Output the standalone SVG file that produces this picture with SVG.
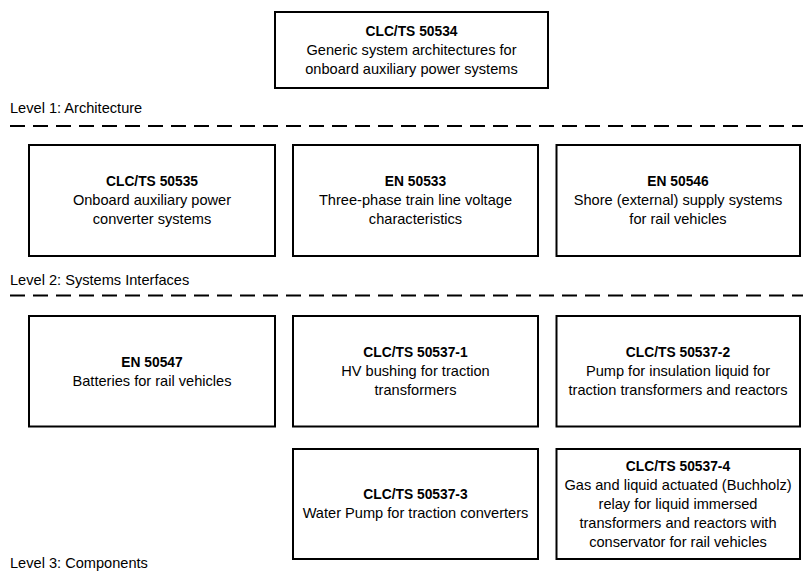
<svg xmlns="http://www.w3.org/2000/svg" width="803" height="577" viewBox="0 0 803 577">
<style>
.box{fill:#fff;stroke:#000;stroke-width:2}
.t{font-family:"Liberation Sans",Arial,sans-serif;font-size:14.6px;fill:#000;text-anchor:middle}
.b{font-weight:bold;font-size:13.8px}
.lbl{font-family:"Liberation Sans",Arial,sans-serif;font-size:14.6px;fill:#000}
.dash{stroke:#000;stroke-width:2;stroke-dasharray:15 8;fill:none}
</style>
<rect width="803" height="577" fill="#fff"/>
<g id="separators">
<line class="dash" x1="10" y1="126" x2="803" y2="126"/>
<line class="dash" x1="10" y1="295.5" x2="803" y2="295.5"/>
</g>
<text class="lbl" x="10" y="113">Level 1: Architecture</text>
<text class="lbl" x="10" y="285">Level 2: Systems Interfaces</text>
<text class="lbl" x="10" y="568">Level 3: Components</text>
<g id="n50534">
<rect class="box" x="275" y="12" width="273" height="76"/>
<text class="t b" x="411.5" y="36">CLC/TS 50534</text>
<text class="t" x="411.5" y="55">Generic system architectures for</text>
<text class="t" x="411.5" y="74">onboard auxiliary power systems</text>
</g>
<g id="n50535">
<rect class="box" x="29" y="145" width="246" height="111"/>
<text class="t b" x="152" y="186">CLC/TS 50535</text>
<text class="t" x="152" y="205">Onboard auxiliary power</text>
<text class="t" x="152" y="224">converter systems</text>
</g>
<g id="n50533">
<rect class="box" x="293" y="145" width="245" height="111"/>
<text class="t b" x="415.5" y="186">EN 50533</text>
<text class="t" x="415.5" y="205">Three-phase train line voltage</text>
<text class="t" x="415.5" y="224">characteristics</text>
</g>
<g id="n50546">
<rect class="box" x="556.5" y="145" width="243.5" height="111"/>
<text class="t b" x="678" y="186">EN 50546</text>
<text class="t" x="678" y="205">Shore (external) supply systems</text>
<text class="t" x="678" y="224">for rail vehicles</text>
</g>
<g id="n50547">
<rect class="box" x="29" y="316" width="246" height="110.5"/>
<text class="t b" x="152" y="366.5">EN 50547</text>
<text class="t" x="152" y="385.5">Batteries for rail vehicles</text>
</g>
<g id="n50537-1">
<rect class="box" x="293" y="316" width="245" height="110.5"/>
<text class="t b" x="415.5" y="357">CLC/TS 50537-1</text>
<text class="t" x="415.5" y="376">HV bushing for traction</text>
<text class="t" x="415.5" y="395">transformers</text>
</g>
<g id="n50537-2">
<rect class="box" x="556.5" y="316" width="243.5" height="110.5"/>
<text class="t b" x="678" y="357">CLC/TS 50537-2</text>
<text class="t" x="678" y="376">Pump for insulation liquid for</text>
<text class="t" x="678" y="395">traction transformers and reactors</text>
</g>
<g id="n50537-3">
<rect class="box" x="293" y="449" width="245" height="110"/>
<text class="t b" x="415.5" y="499">CLC/TS 50537-3</text>
<text class="t" x="415.5" y="518">Water Pump for traction converters</text>
</g>
<g id="n50537-4">
<rect class="box" x="556.5" y="449" width="243.5" height="110"/>
<text class="t b" x="678" y="471">CLC/TS 50537-4</text>
<text class="t" x="678" y="490">Gas and liquid actuated (Buchholz)</text>
<text class="t" x="678" y="509">relay for liquid immersed</text>
<text class="t" x="678" y="528">transformers and reactors with</text>
<text class="t" x="678" y="547">conservator for rail vehicles</text>
</g>
</svg>
